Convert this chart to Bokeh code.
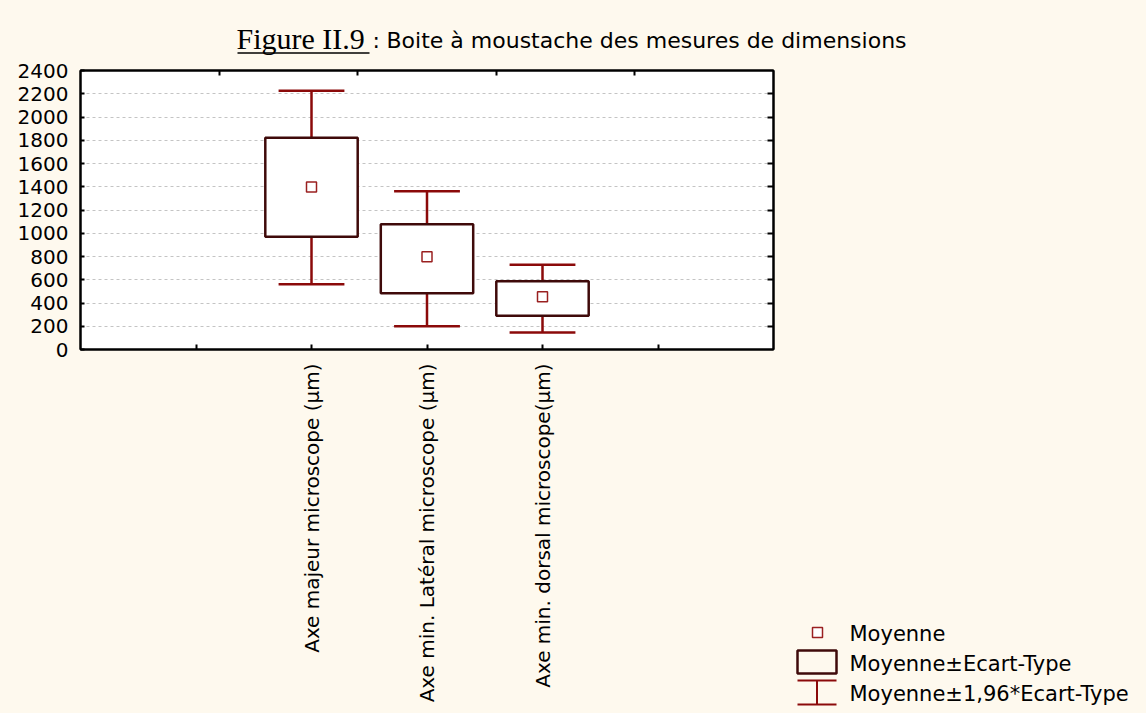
import math
from bokeh.plotting import figure
from bokeh.layouts import column, row
from bokeh.models import Range1d, LinearAxis, FixedTicker, CustomJSTickFormatter
from bokeh.core.properties import value
from bokeh.embed import file_html
from bokeh.resources import INLINE

# ---- data ----
categories = ["Axe majeur microscope (\u00b5m)",
              "Axe min. Lat\u00e9ral microscope (\u00b5m)",
              "Axe min. dorsal microscope(\u00b5m)"]
means = [1398, 797, 453]
sd_low = [969, 484, 290]
sd_high = [1821, 1078, 587]
ci_low = [562, 200, 146]
ci_high = [2225, 1362, 728]
y_ticks = list(range(0, 2401, 200))
legend_labels = ["Moyenne", "Moyenne\u00b1Ecart-Type", "Moyenne\u00b11,96*Ecart-Type"]
title_main = "Figure II.9"
title_sub = "Boite \u00e0 moustache des mesures de dimensions"

BG = "#fef9ee"
WHISK = "#8b0a0a"
BOXC = "#3f0a0a"
MEANC = "#9a2020"
FONT = "DejaVu Sans"

W, H = 1146, 713
TOP_H = 60
MAIN_W = 783


def blank_fig(width, height, x0, x1, y0, y1):
    f = figure(width=width, height=height, output_backend="svg", toolbar_location=None,
               title_location=None,
               x_range=Range1d(x0, x1), y_range=Range1d(y1, y0), min_border=0,
               background_fill_color=BG, border_fill_color=BG)
    f.axis.visible = False
    f.grid.visible = False
    f.outline_line_color = None
    f.frame_align = False
    return f


# ---- title strip (coordinates in page pixels) ----
tf = blank_fig(W, TOP_H, 0, W, 0, TOP_H)
tf.text(x=[236], y=[38], text=[title_main], text_font=value("Liberation Serif"),
        text_font_size="30px", text_color="black", text_baseline="middle")
tf.segment(x0=[237], y0=[52.5], x1=[369], y1=[52.5], line_color="black", line_width=1.5)
tf.text(x=[372], y=[40], text=[":"], text_font=value(FONT), text_font_size="22px",
        text_color="black", text_baseline="middle")
tf.text(x=[386], y=[40], text=[title_sub], text_font=value(FONT), text_font_size="22px",
        text_color="black", text_baseline="middle")

# ---- main chart ----
x = [i + 2 for i in range(len(categories))]
MH = H - TOP_H
p = figure(width=MAIN_W, height=MH, output_backend="svg", toolbar_location=None,
           title_location=None,
           x_range=Range1d(0, 6), y_range=Range1d(0, 2400),
           frame_width=693, frame_height=279,
           min_border_left=80, min_border_right=MAIN_W - 80 - 693,
           min_border_top=70 - TOP_H, min_border_bottom=MH - (70 - TOP_H) - 279,
           background_fill_color="white", border_fill_color=BG)
p.frame_align = False
p.outline_line_color = "black"
p.outline_line_width = 2

p.xgrid.visible = False
p.ygrid.ticker = FixedTicker(ticks=y_ticks[1:-1])
p.ygrid.grid_line_color = "#c4c4c4"
p.ygrid.grid_line_dash = "3 3"
p.ygrid.grid_line_width = 1

ya = p.yaxis[0]
ya.ticker = FixedTicker(ticks=y_ticks)
ya.major_tick_in = 4
ya.major_tick_out = 0
ya.minor_tick_line_color = None
ya.axis_line_width = 2
ya.major_tick_line_width = 2
ya.major_label_text_font = FONT
ya.major_label_text_font_size = "20px"
ya.major_label_text_color = "black"
ya.major_label_standoff = 12

xa = p.xaxis[0]
xa.ticker = FixedTicker(ticks=[1, 2, 3, 4, 5])
overrides = {1: "", 5: ""}
for xi, c in zip(x, categories):
    overrides[xi] = c
xa.major_label_overrides = overrides
xa.major_label_orientation = math.pi / 2
xa.major_tick_in = 5
xa.major_tick_out = 0
xa.minor_tick_line_color = None
xa.axis_line_width = 2
xa.major_tick_line_width = 2
xa.major_label_text_font = FONT
xa.major_label_text_font_size = "20px"
xa.major_label_text_color = "black"
xa.major_label_standoff = 14

empty = CustomJSTickFormatter(code="return ''")
ra = LinearAxis(ticker=FixedTicker(ticks=y_ticks[1:-1]), formatter=empty,
                major_tick_in=6, major_tick_out=0, minor_tick_line_color=None,
                axis_line_width=2, major_tick_line_width=2, major_label_standoff=0)
p.add_layout(ra, "right")
ta = LinearAxis(ticker=FixedTicker(ticks=[1.2, 2.4, 3.6, 4.8]), formatter=empty,
                major_tick_in=5, major_tick_out=0, minor_tick_line_color=None,
                axis_line_width=2, major_tick_line_width=2, major_label_standoff=0)
p.add_layout(ta, "above")

p.segment(x0=x, y0=ci_low, x1=x, y1=ci_high, line_color=WHISK, line_width=2.5)
cap = 0.285
p.segment(x0=[v - cap for v in x], y0=ci_high, x1=[v + cap for v in x], y1=ci_high,
          line_color=WHISK, line_width=2.5)
p.segment(x0=[v - cap for v in x], y0=ci_low, x1=[v + cap for v in x], y1=ci_low,
          line_color=WHISK, line_width=2.5)
hw = 0.4
p.quad(left=[v - hw for v in x], right=[v + hw for v in x], bottom=sd_low, top=sd_high,
       fill_color="white", line_color=BOXC, line_width=2.5)
p.scatter(x=x, y=means, marker="square", size=10, fill_color="white",
          line_color=MEANC, line_width=1.5)

# ---- legend strip (coordinates in page pixels) ----
lf = blank_fig(W - MAIN_W, MH, MAIN_W, W, TOP_H, H)
lf.scatter(x=[817], y=[632], marker="square", size=10, fill_color="white",
           line_color=MEANC, line_width=1.5)
lf.quad(left=[797], right=[836], top=[650], bottom=[673], fill_color=None,
        line_color=BOXC, line_width=2.5)
lf.segment(x0=[816.5, 797, 797], y0=[680, 680, 704], x1=[816.5, 836, 836], y1=[704, 680, 704],
           line_color=WHISK, line_width=2)
lf.text(x=[849] * 3, y=[633, 663, 693], text=legend_labels, text_font=value(FONT),
        text_font_size="21px", text_color="black", text_baseline="middle")

layout = column(tf, row(p, lf, spacing=0), spacing=0, background=BG)

html = file_html(layout, INLINE)
html = html.replace("<head>", "<head><style>body{background:%s;}</style>" % BG, 1)
open("out.html", "w").write(html)
